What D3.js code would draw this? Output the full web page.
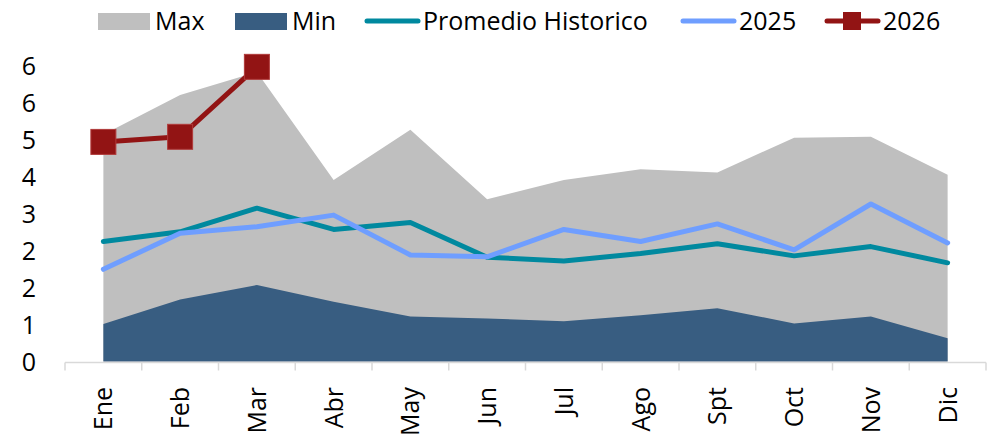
<!DOCTYPE html>
<html>
<head>
<meta charset="utf-8">
<script src="https://cdn.jsdelivr.net/npm/d3@7"></script>
<style>
  body { margin: 0; background: #fff; }
  svg { display: block; font-family: "Open Sans", sans-serif; }
</style>
</head>
<body>
<div id="showBox"></div>
<script>
const months = ["Ene", "Feb", "Mar", "Abr", "May", "Jun", "Jul", "Ago", "Spt", "Oct", "Nov", "Dic"]
const maxVals = [4.9, 5.75, 6.25, 3.92, 5.0, 3.5, 3.92, 4.15, 4.08, 4.83, 4.85, 4.03]
const minVals = [0.81, 1.34, 1.65, 1.29, 0.97, 0.93, 0.87, 1.0, 1.15, 0.82, 0.97, 0.5]
const promedio = [2.59, 2.8, 3.31, 2.85, 3.0, 2.25, 2.17, 2.33, 2.54, 2.28, 2.48, 2.13]
const y2025 = [1.99, 2.77, 2.91, 3.16, 2.3, 2.26, 2.85, 2.59, 2.97, 2.41, 3.4, 2.56]
const y2026 = [4.74, 4.85, 6.36]
const yTicks = [0, 0.8, 1.6, 2.4, 3.2, 4.0, 4.8, 5.6, 6.4]

const width = 991, height = 438
const fontSize = 25
const colors = {max: "#bfbfbf", min: "#385d81", prom: "#00899f", y25: "#6f9eff", y26: "#921414"}

const svg = d3.select("#showBox").append("svg")
    .attr("width", width)
    .attr("height", height)

const x = d3.scaleBand().domain(months).range([65, 986]).padding(0)
const cx = d => x(d) + x.bandwidth() / 2
const y = d3.scaleLinear().domain([0, 6.4]).range([361.5, 65])

// areas
const area = d3.area()
    .x((d, i) => cx(months[i]))
    .y0(y(0))
    .y1(d => y(d))

svg.append("path")
    .datum(maxVals)
    .attr("fill", colors.max)
    .attr("d", area)

svg.append("path")
    .datum(minVals)
    .attr("fill", colors.min)
    .attr("d", area)

// x axis
const axisG = svg.append("g").attr("stroke", "#d9d9d9").attr("stroke-width", 1.5)
axisG.append("line")
    .attr("x1", x.range()[0]).attr("x2", x.range()[1])
    .attr("y1", y(0) + 1).attr("y2", y(0) + 1)
axisG.selectAll("line.tick")
    .data(months.map(m => x(m)).concat([x.range()[1]]))
    .join("line")
    .attr("class", "tick")
    .attr("x1", d => d).attr("x2", d => d)
    .attr("y1", y(0) + 1).attr("y2", y(0) + 9)

svg.append("g")
    .attr("font-size", fontSize)
    .attr("fill", "#000")
    .selectAll("text")
    .data(months)
    .join("text")
    .attr("transform", d => `translate(${cx(d) + 9},387) rotate(-90)`)
    .attr("text-anchor", "end")
    .text(d => d)

// y axis
const yAxis = svg.append("g")
    .attr("transform", "translate(39,0)")
    .call(d3.axisLeft(y).tickValues(yTicks).tickFormat(d3.format(".0f")).tickSize(0))
yAxis.select(".domain").remove()
yAxis.selectAll("text")
    .attr("font-size", fontSize)
    .attr("font-family", "Open Sans, sans-serif")
    .attr("fill", "#000")
    .attr("dy", "0.36em")

// lines
const line = d3.line()
    .x((d, i) => cx(months[i]))
    .y(d => y(d))

svg.append("path")
    .datum(promedio)
    .attr("fill", "none")
    .attr("stroke", colors.prom)
    .attr("stroke-width", 5)
    .attr("stroke-linejoin", "round")
    .attr("stroke-linecap", "round")
    .attr("d", line)

svg.append("path")
    .datum(y2025)
    .attr("fill", "none")
    .attr("stroke", colors.y25)
    .attr("stroke-width", 5)
    .attr("stroke-linejoin", "round")
    .attr("stroke-linecap", "round")
    .attr("d", line)

svg.append("path")
    .datum(y2026)
    .attr("fill", "none")
    .attr("stroke", colors.y26)
    .attr("stroke-width", 5)
    .attr("stroke-linejoin", "round")
    .attr("d", line)

svg.append("g")
    .selectAll("rect")
    .data(y2026)
    .join("rect")
    .attr("x", (d, i) => cx(months[i]) - 12.5)
    .attr("y", d => y(d) - 12.5)
    .attr("width", 25)
    .attr("height", 25)
    .attr("fill", colors.y26)
    .attr("stroke", "#b03a3a")
    .attr("stroke-width", 1)

// legend
const legend = [
    {name: "Max", type: "rect", color: colors.max, x: 98},
    {name: "Min", type: "rect", color: colors.min, x: 235},
    {name: "Promedio Historico", type: "line", color: colors.prom, x: 365},
    {name: "2025", type: "line", color: colors.y25, x: 681},
    {name: "2026", type: "marker", color: colors.y26, x: 825}
]
const lg = svg.append("g").selectAll("g").data(legend).join("g")
    .attr("transform", d => `translate(${d.x},21)`)
lg.filter(d => d.type === "rect").append("rect")
    .attr("x", 0).attr("y", -8).attr("width", 52).attr("height", 17)
    .attr("fill", d => d.color)
lg.filter(d => d.type !== "rect").append("line")
    .attr("x1", 2).attr("x2", 53).attr("y1", 0).attr("y2", 0)
    .attr("stroke", d => d.color)
    .attr("stroke-width", 5)
    .attr("stroke-linecap", "round")
lg.filter(d => d.type === "marker").append("rect")
    .attr("x", 18).attr("y", -9).attr("width", 18).attr("height", 18)
    .attr("fill", d => d.color)
lg.append("text")
    .attr("x", d => d.type === "rect" ? 57 : 58)
    .attr("y", 0)
    .attr("dy", "0.36em")
    .attr("font-size", fontSize)
    .attr("fill", "#000")
    .text(d => d.name)
</script>
</body>
</html>
